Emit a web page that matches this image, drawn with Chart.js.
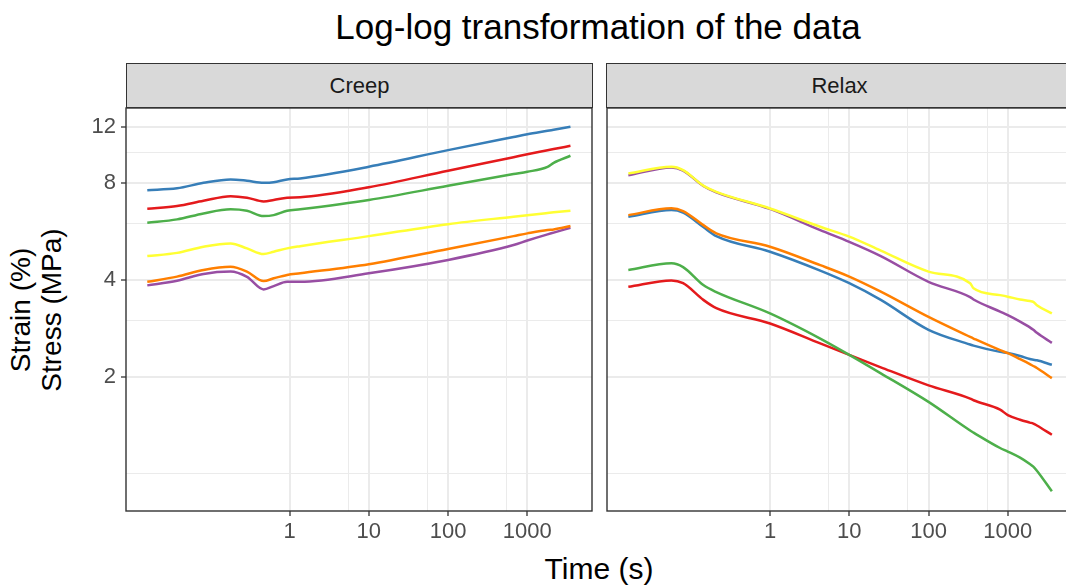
<!DOCTYPE html>
<html>
<head>
<meta charset="utf-8">
<script src="https://cdn.jsdelivr.net/npm/chart.js@4.4.1/dist/chart.umd.min.js"></script>
<style>
  html, body { margin: 0; padding: 0; width: 1066px; height: 587px; overflow: hidden; background: #fff;
    font-family: "Liberation Sans", Arial, sans-serif; }
  .abs { position: absolute; white-space: nowrap; }
  #title { left: 598px; top: 7px; transform: translateX(-50%); font-size: 35px; line-height: 40px; color: #000; }
  .strip { position: absolute; top: 63px; height: 45px; box-sizing: border-box; background: #D9D9D9;
    border: 1.3px solid #333333; color: #1A1A1A; font-size: 22px; display: flex; align-items: center; justify-content: center; }
  #xtitle { left: 599px; top: 553px; transform: translateX(-50%); font-size: 30px; line-height: 32px; color: #000; }
  #ytitle { left: -114px; top: 279px; width: 300px; height: 62px; transform: rotate(-90deg);
    text-align: center; font-size: 28px; line-height: 31px; color: #000; }
  canvas { position: absolute; top: 0; }
</style>
</head>
<body>
<div id="title" class="abs">Log-log transformation of the data</div>
<div class="strip" style="left:126px;width:467px;">Creep</div>
<div class="strip" style="left:606px;width:467px;">Relax</div>
<div id="ytitle" class="abs">Strain (%)<br>Stress (MPa)</div>
<div id="xtitle" class="abs">Time (s)</div>
<canvas id="creep" width="600" height="587" style="left:0px"></canvas>
<canvas id="relax" width="480" height="587" style="left:600px"></canvas>

<script>
// Series colours (Set1 order) and labels
const seriesNames  = ['1', '2', '3', '4', '5', '6'];
const seriesColors = ['#E41A1C', '#377EB8', '#4DAF4A', '#984EA3', '#FF7F00', '#FFFF33'];

// Axis breaks
const xMajor = [1, 10, 100, 1000];
const xMinor = [5.5, 55, 550];
const yMajor = [2, 4, 8, 12];
const yMinor = [1, 3, 6, 10];

// Creep test: strain (%) against time (s)
const creepTime = [0.016, 0.038, 0.082, 0.18, 0.29, 0.47, 0.63, 0.93, 1.36, 10, 100, 670, 1000, 1800, 2150, 3500];
const creepRed    = [6.67, 6.80, 7.06, 7.30, 7.22, 7.03, 7.10, 7.22, 7.24, 7.78, 8.76, 9.65, 9.85, 10.14, 10.23, 10.47];
const creepBlue   = [7.62, 7.72, 8.03, 8.23, 8.15, 8.03, 8.06, 8.23, 8.29, 9.01, 10.15, 11.15, 11.37, 11.66, 11.75, 12.0];
const creepGreen  = [6.03, 6.18, 6.45, 6.64, 6.57, 6.33, 6.37, 6.57, 6.64, 7.10, 7.86, 8.55, 8.69, 9.01, 9.27, 9.75];
const creepPurple = [3.85, 3.98, 4.18, 4.25, 4.09, 3.74, 3.83, 3.95, 3.95, 4.20, 4.62, 5.14, 5.31, 5.55, 5.62, 5.82];
const creepOrange = [3.95, 4.10, 4.30, 4.40, 4.25, 3.97, 4.05, 4.15, 4.20, 4.48, 5.00, 5.48, 5.59, 5.73, 5.75, 5.89];
const creepYellow = [4.75, 4.86, 5.08, 5.20, 5.02, 4.82, 4.90, 5.02, 5.10, 5.48, 5.97, 6.30, 6.37, 6.47, 6.50, 6.57];

// Relaxation test: stress (MPa) against time (s)
const relaxTime = [0.0163, 0.057, 0.08, 0.144, 0.21, 1, 4.3, 10, 25, 100, 335, 370, 800, 1000, 1430, 1900, 2100, 2330, 3600];
const relaxRed    = [3.81, 3.99, 3.91, 3.47, 3.27, 2.93, 2.54, 2.34, 2.14, 1.88, 1.71, 1.69, 1.58, 1.52, 1.47, 1.44, 1.43, 1.41, 1.32];
const relaxBlue   = [6.30, 6.61, 6.49, 5.85, 5.48, 4.90, 4.28, 3.91, 3.47, 2.80, 2.52, 2.50, 2.39, 2.37, 2.32, 2.27, 2.26, 2.25, 2.18];
const relaxGreen  = [4.30, 4.51, 4.39, 3.86, 3.67, 3.15, 2.63, 2.34, 2.05, 1.67, 1.36, 1.34, 1.20, 1.17, 1.12, 1.07, 1.05, 1.02, 0.88];
const relaxPurple = [8.47, 8.97, 8.77, 7.85, 7.50, 6.66, 5.72, 5.26, 4.75, 3.95, 3.54, 3.48, 3.19, 3.11, 2.97, 2.85, 2.80, 2.74, 2.55];
const relaxOrange = [6.37, 6.69, 6.56, 5.93, 5.59, 5.08, 4.45, 4.10, 3.68, 3.07, 2.66, 2.63, 2.42, 2.37, 2.27, 2.19, 2.16, 2.13, 1.98];
const relaxYellow = [8.59, 9.01, 8.80, 7.87, 7.53, 6.68, 5.86, 5.46, 4.94, 4.25, 3.91, 3.77, 3.59, 3.55, 3.48, 3.44, 3.42, 3.34, 3.15];

Chart.defaults.font.family = "'Liberation Sans', Arial, sans-serif";

const GRID = '#EBEBEB';
const DARK = '#333333';

function makeDatasets(time, series) {
  return series.map((vals, i) => ({
    label: seriesNames[i],
    data: time.map((t, k) => ({ x: t, y: vals[k] })),
    borderColor: seriesColors[i],
    borderWidth: 2.5,
    pointRadius: 0,
    cubicInterpolationMode: 'monotone',
    fill: false,
    order: series.length - 1 - i
  }));
}

function setTicks(major, minor) {
  return (scale) => {
    scale.ticks = major.concat(minor).sort((a, b) => a - b).map(v => ({ value: v }));
  };
}

const panelBorder = {
  id: 'panelBorder',
  afterDatasetsDraw(chart) {
    const a = chart.chartArea, c = chart.ctx;
    c.save();
    c.strokeStyle = DARK;
    c.lineWidth = 1.4;
    c.strokeRect(a.left, a.top, a.right - a.left, a.bottom - a.top);
    c.restore();
  }
};

function makeChart(id, time, series, xMin, xMax, showY, rightPad, yWidth) {
  return new Chart(document.getElementById(id), {
    type: 'line',
    data: { datasets: makeDatasets(time, series) },
    plugins: [panelBorder],
    options: {
      responsive: false,
      animation: false,
      devicePixelRatio: 1,
      layout: { padding: { top: 108, right: rightPad, left: 0, bottom: 0 } },
      plugins: { legend: { display: false }, tooltip: { enabled: false }, title: { display: false } },
      scales: {
        x: {
          type: 'logarithmic',
          min: xMin, max: xMax, bounds: 'data',
          afterBuildTicks: setTicks(xMajor, xMinor),
          afterFit: (s) => { s.height = 76; },
          border: { display: false },
          grid: {
            color: GRID,
            lineWidth: (ctx) => xMajor.includes(ctx.tick && ctx.tick.value) ? 2 : 1,
            tickLength: 5,
            tickWidth: 1.3,
            tickColor: (ctx) => xMajor.includes(ctx.tick && ctx.tick.value) ? DARK : 'rgba(0,0,0,0)'
          },
          ticks: {
            autoSkip: false, maxRotation: 0, minRotation: 0, padding: 3,
            color: '#4D4D4D', font: { size: 22 },
            callback: (v) => xMajor.includes(v) ? String(v) : ''
          }
        },
        y: {
          type: 'logarithmic',
          min: 0.764, max: 13.73, bounds: 'data',
          afterBuildTicks: setTicks(yMajor, yMinor),
          afterFit: (s) => { s.width = yWidth; },
          border: { display: false },
          grid: {
            color: GRID,
            lineWidth: (ctx) => yMajor.includes(ctx.tick && ctx.tick.value) ? 2 : 1,
            drawTicks: showY,
            tickLength: 5,
            tickWidth: 1.3,
            tickColor: (ctx) => yMajor.includes(ctx.tick && ctx.tick.value) ? DARK : 'rgba(0,0,0,0)'
          },
          ticks: {
            display: showY, autoSkip: false, padding: 5,
            color: '#4D4D4D', font: { size: 22 },
            callback: (v) => yMajor.includes(v) ? String(v) : ''
          }
        }
      }
    }
  });
}

makeChart('creep', creepTime,
  [creepRed, creepBlue, creepGreen, creepPurple, creepOrange, creepYellow],
  0.00862, 6546, true, 8, 126);

makeChart('relax', relaxTime,
  [relaxRed, relaxBlue, relaxGreen, relaxPurple, relaxOrange, relaxYellow],
  0.00877, 6654, false, 7, 7);
</script>
</body>
</html>
